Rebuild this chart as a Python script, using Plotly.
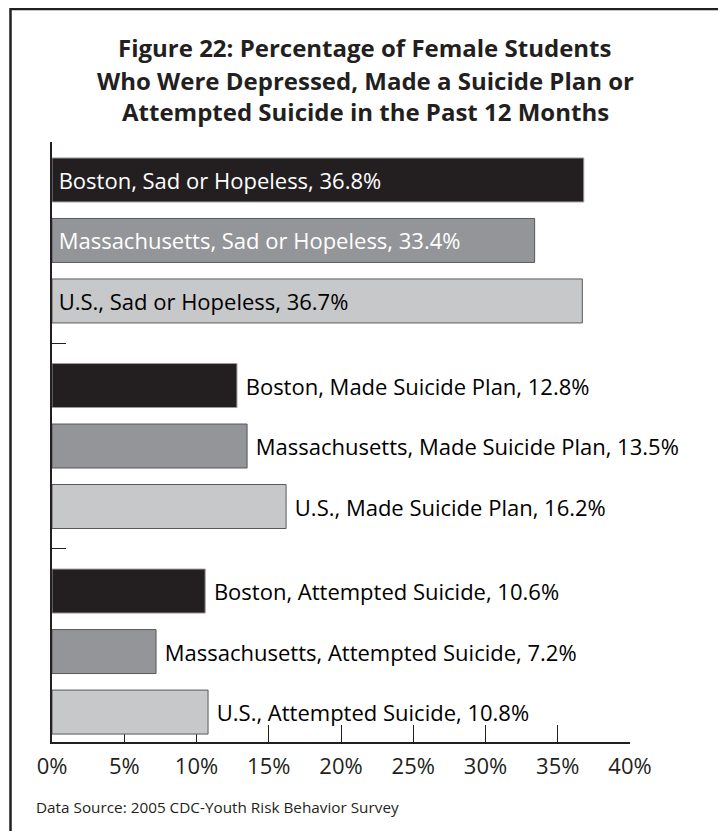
import plotly.graph_objects as go

# ---- data ----
groups = ["Sad or Hopeless", "Made Suicide Plan", "Attempted Suicide"]
regions = ["Boston", "Massachusetts", "U.S."]
boston = [36.8, 12.8, 10.6]
massachusetts = [33.4, 13.5, 7.2]
us = [36.7, 16.2, 10.8]
x_ticks = [0, 5, 10, 15, 20, 25, 30, 35, 40]
x_tick_labels = ["0%", "5%", "10%", "15%", "20%", "25%", "30%", "35%", "40%"]
title_lines = [
    "Figure 22: Percentage of Female Students",
    "Who Were Depressed, Made a Suicide Plan or",
    "Attempted Suicide in the Past 12 Months",
]
source_text = "Data Source: 2005 CDC-Youth Risk Behavior Survey"

# ---- styles ----
FONT = "Open Sans"
OFF = 8  # browser body margin
W, H = 718, 823
# reference page-pixel layout
P_LEFT, P_RIGHT, P_TOP, P_BOTTOM = 52, 630, 142, 742
ML = P_LEFT - OFF
MR = W - (P_RIGHT - OFF)
MT = P_TOP - OFF
MB = H - (P_BOTTOM - OFF)
bar_colors = ["#231f20", "#939598", "#c7c8ca"]
line_colors = ["#9a9a9a", "#58595b", "#58595b"]
inside_text_colors = ["#ffffff", "#ffffff", "#000000"]

fig = go.Figure()
series = [boston, massachusetts, us]
for i, (name, vals) in enumerate(zip(regions, series)):
    texts = []
    positions = []
    colors = []
    for j, v in enumerate(vals):
        label = f"{name}, {groups[j]}, {v:.1f}%"
        if j == 0:
            texts.append("\u2009" + label)
            positions.append("inside")
            colors.append(inside_text_colors[i])
        else:
            texts.append("\u00a0" + label)
            positions.append("outside")
            colors.append("#000000")
    fig.add_trace(go.Bar(
        name=name,
        y=groups,
        x=vals,
        orientation="h",
        marker=dict(color=bar_colors[i], line=dict(color=line_colors[i], width=1)),
        text=texts,
        textposition=positions,
        insidetextanchor="start",
        textangle=0,
        constraintext="none",
        cliponaxis=False,
        textfont=dict(family=FONT, size=22, color=colors),
        hoverinfo="skip",
    ))

fig.update_layout(
    width=W, height=H,
    margin=dict(l=ML, r=MR, t=MT, b=MB),
    paper_bgcolor="white",
    plot_bgcolor="white",
    barmode="group",
    bargap=0.117,
    bargroupgap=0.273,
    showlegend=False,
    font=dict(family=FONT, color="#231f20"),
)

fig.update_xaxes(
    range=[0, 40],
    tickvals=x_ticks,
    ticktext=x_tick_labels,
    ticks="inside",
    ticklen=17,
    tickwidth=1.2,
    tickcolor="#231f20",
    showline=True,
    linecolor="#231f20",
    linewidth=1.5,
    showgrid=False,
    zeroline=False,
    tickfont=dict(family=FONT, size=22, color="#231f20"),
    ticklabelstandoff=4,
    layer="below traces",
)
fig.update_yaxes(
    type="category",
    categoryorder="array",
    categoryarray=groups,
    range=[2.44, -0.479],
    tickson="boundaries",
    ticks="inside",
    ticklen=14,
    tickwidth=1.2,
    tickcolor="#231f20",
    showticklabels=False,
    showline=True,
    linecolor="#231f20",
    linewidth=1.5,
    showgrid=False,
    zeroline=False,
)

plot_w = W - ML - MR
plot_h = H - MT - MB

def px_x(px):
    return (px - OFF - ML) / plot_w

def px_y(py):
    return (H - MB - (py - OFF)) / plot_h

# outer frame
fig.add_shape(type="rect", xref="paper", yref="paper",
              x0=px_x(10.5), x1=px_x(723.5), y0=px_y(860), y1=px_y(9),
              line=dict(color="#231f20", width=2.5), fillcolor="rgba(0,0,0,0)", layer="above")

# title
title_y = [48, 80, 112]
for line, yy in zip(title_lines, title_y):
    fig.add_annotation(text=f"<b>{line}</b>", xref="paper", yref="paper",
                       x=px_x(365), y=px_y(yy), xanchor="center", yanchor="middle",
                       showarrow=False, font=dict(family=FONT, size=24, color="#231f20"))

fig.add_annotation(text=source_text, xref="paper", yref="paper",
                   x=px_x(34), y=px_y(807), xanchor="left", yanchor="middle",
                   showarrow=False, font=dict(family=FONT, size=15.3, color="#231f20"))

fig.write_html("out.html")
